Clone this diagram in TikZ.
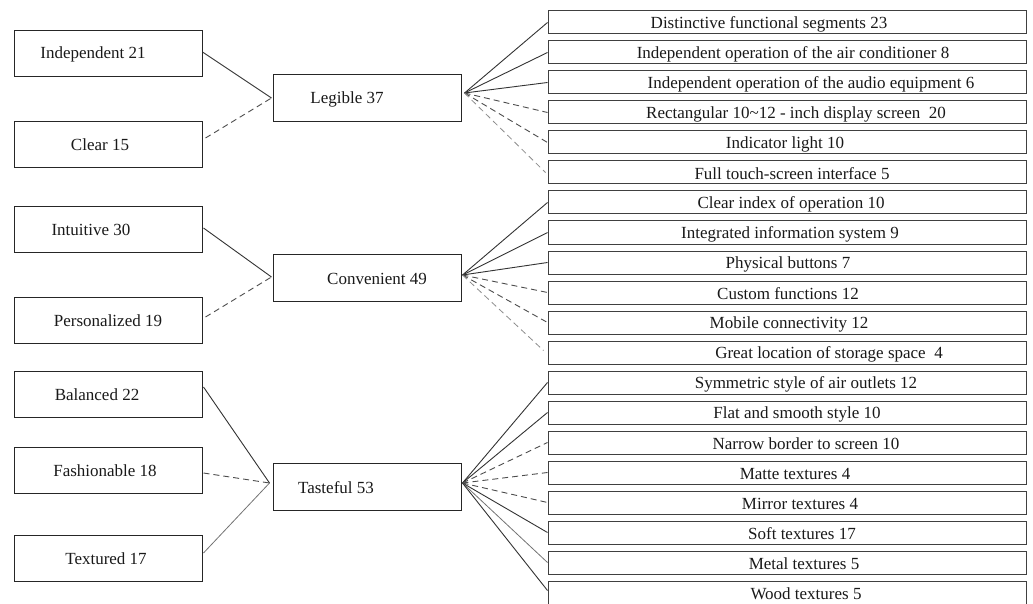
\documentclass[tikz,border=0pt]{standalone}
\usepackage{fontspec}
\setmainfont{Liberation Serif}
\usetikzlibrary{calc}
\tikzset{
  x=1pt,y=-1pt,
  lb/.style={draw=black!85,line width=1pt,minimum width=188pt,minimum height=46pt,inner sep=0pt},
  rb/.style={draw=black!75,line width=1pt,minimum width=478pt,minimum height=23pt,inner sep=0pt},
  txt/.style={font=\fontsize{17}{18}\selectfont,inner sep=0pt,text=black!90},
  sol/.style={draw=black!80,line width=0.9pt},
  dsh/.style={draw=black!70,line width=0.9pt,dash pattern=on 6pt off 4pt},
  ldsh/.style={draw=black!45,line width=0.8pt,dash pattern=on 6pt off 4pt},
  lsol/.style={draw=black!55,line width=0.8pt}
}
\newcommand\LBx[4]{\node[lb] (#1) at (108,#2) {};\node[txt] at (#3,#2) {#4};}
\newcommand\MBx[4]{\node[lb,minimum height=47pt] (#1) at (367,#2) {};\node[txt] at (#3,#2+1) {#4};}
\newcommand\RBx[4]{\node[rb] (#1) at (787,#2) {};\node[txt] at (#3,#2+1.5) {#4};}
\begin{document}
\begin{tikzpicture}
\useasboundingbox (0,0) rectangle (1033,604);
% left boxes
\LBx{l1}{54}{93}{Independent 21}
\LBx{l2}{145}{100}{Clear 15}
\LBx{l3}{229.5}{91}{Intuitive 30}
\LBx{l4}{320.5}{108}{Personalized 19}
\LBx{l5}{394.5}{97}{Balanced 22}
\LBx{l6}{470.5}{105}{Fashionable 18}
\LBx{l7}{558.5}{106}{Textured 17}
% middle boxes
\MBx{m1}{98.5}{347}{Legible 37}
\MBx{m2}{277.5}{377}{Convenient 49}
\MBx{m3}{486.5}{336}{Tasteful 53}
% right boxes
\RBx{r1}{22.5}{769}{Distinctive functional segments 23}
\RBx{r2}{52.5}{793}{Independent operation of the air conditioner 8}
\RBx{r3}{82.5}{811}{Independent operation of the audio equipment 6}
\RBx{r4}{112.5}{796}{Rectangular 10\char"007E 12 - inch display screen\ \ 20}
\RBx{r5}{142.5}{785}{Indicator light 10}
\RBx{r6}{172.5}{792}{Full touch-screen interface 5}
\RBx{r7}{202.5}{791}{Clear index of operation 10}
\RBx{r8}{232.5}{790}{Integrated information system 9}
\RBx{r9}{262.5}{788}{Physical buttons 7}
\RBx{r10}{292.5}{788}{Custom functions 12}
\RBx{r11}{322.5}{789}{Mobile connectivity 12}
\RBx{r12}{352.5}{829}{Great location of storage space\ \ 4}
\RBx{r13}{382.5}{806}{Symmetric style of air outlets 12}
\RBx{r14}{412.5}{797}{Flat and smooth style 10}
\RBx{r15}{442.5}{806}{Narrow border to screen 10}
\RBx{r16}{472.5}{795}{Matte textures 4}
\RBx{r17}{502.5}{800}{Mirror textures 4}
\RBx{r18}{532.5}{802}{Soft textures 17}
\RBx{r19}{562.5}{804}{Metal textures 5}
\RBx{r20}{592.5}{806}{Wood textures 5}
% convergence points
\coordinate (m1l) at ($(m1.west)+(-1,-0.5)$);
\coordinate (m1r) at ($(m1.east)+(3,-5.5)$);
\coordinate (m2l) at ($(m2.west)+(-1,-0.5)$);
\coordinate (m2r) at ($(m2.east)+(1,-2.5)$);
\coordinate (m3l) at ($(m3.west)+(-3,-3.5)$);
\coordinate (m3r) at ($(m3.east)+(1,-3.5)$);
% left connectors
\draw[sol] ($(l1.east)+(0,-2)$) -- (m1l);
\draw[dsh] ($(l2.east)+(3,-7)$) -- (m1l);
\draw[sol] ($(l3.east)+(1,-1.5)$) -- (m2l);
\draw[dsh] ($(l4.east)+(3,-3.5)$) -- (m2l);
\draw[sol] ($(l5.east)+(1,-7.5)$) -- (m3l);
\draw[dsh] ($(l6.east)+(1,2.5)$) -- (m3l);
\draw[lsol] ($(l7.east)+(1,-5.5)$) -- (m3l);
% right connectors
\draw[sol] (m1r) -- (r1.west);
\draw[sol] (m1r) -- (r2.west);
\draw[sol] (m1r) -- (r3.west);
\draw[dsh] (m1r) -- (r4.west);
\draw[dsh] (m1r) -- (r5.west);
\draw[ldsh] (m1r) -- ($(r6.west)+(-2,0)$);
\draw[sol] (m2r) -- (r7.west);
\draw[sol] (m2r) -- (r8.west);
\draw[sol] (m2r) -- (r9.west);
\draw[dsh] (m2r) -- (r10.west);
\draw[dsh] (m2r) -- (r11.west);
\draw[ldsh] (m2r) -- ($(r12.west)+(-4,-2)$);
\draw[sol] (m3r) -- (r13.west);
\draw[sol] (m3r) -- (r14.west);
\draw[dsh] (m3r) -- (r15.west);
\draw[dsh] (m3r) -- (r16.west);
\draw[dsh] (m3r) -- (r17.west);
\draw[sol] (m3r) -- (r18.west);
\draw[lsol] (m3r) -- (r19.west);
\draw[sol] (m3r) -- ($(r20.west)+(0,-2)$);
\end{tikzpicture}
\end{document}
